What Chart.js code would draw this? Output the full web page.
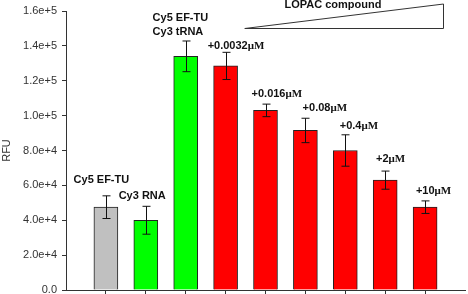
<!DOCTYPE html>
<html>
<head>
<meta charset="utf-8">
<script src="https://cdn.jsdelivr.net/npm/chart.js@4.4.1/dist/chart.umd.min.js"></script>
<style>
  html, body { margin: 0; padding: 0; background: #fff; }
  #wrap { width: 468px; height: 294px; position: relative; }
</style>
</head>
<body>
<div id="wrap"><canvas id="chart"></canvas></div>
<script>
// bar positions on the x axis (1..9) and values
const positions = [1, 2, 3, 4, 5, 6, 7, 8, 9];
const rfu = [47500, 40000, 134000, 128500, 103000, 91500, 80000, 63000, 47500];
const rfuErr = [6500, 8000, 8800, 7800, 3600, 7000, 9000, 5200, 3600];
const barColors = ['#c0c0c0', '#00ff00', '#00ff00', '#ff0000', '#ff0000', '#ff0000', '#ff0000', '#ff0000', '#ff0000'];
const yTicks = [0, 20000, 40000, 60000, 80000, 100000, 120000, 140000, 160000];

// text above the bars (lines of each label)
const barLabels = [
  ['Cy5 EF-TU'],
  ['Cy3 RNA'],
  ['Cy5 EF-TU', 'Cy3 tRNA'],
  ['+0.0032μM'],
  ['+0.016μM'],
  ['+0.08μM'],
  ['+0.4μM'],
  ['+2μM'],
  ['+10μM']
];
// where each label starts, in axis units (x = left edge, y = first line middle)
const labelX = [0.19, 1.32, 2.17, 3.55, 4.65, 5.93, 6.86, 7.77, 8.77];
const labelY = [62900, 53700, 156000, 139900, 112300, 104300, 93900, 75200, 56800];

// the "LOPAC compound" wedge, in axis units
const wedgeX = [4.48, 9.45];
const wedgeY = [150500, 164000];

const textColor = '#333';
const lineColor = '#333';

const drawMixed = (ctx, text, x, y) => {
  // the unit "μM" is set in a serif face like the original
  const idx = text.indexOf('μM');
  const head = idx >= 0 ? text.slice(0, idx) : text;
  ctx.font = 'bold 11px "Liberation Sans", Arial, sans-serif';
  ctx.fillText(head, x, y);
  if (idx >= 0) {
    const w = ctx.measureText(head).width;
    ctx.font = 'bold 11px "Liberation Serif", "Times New Roman", serif';
    ctx.fillText('μM', x + w, y);
  }
};

const extrasPlugin = {
  id: 'extras',
  afterDatasetsDraw(chart) {
    const ctx = chart.ctx;
    const xs = chart.scales.x;
    const ys = chart.scales.y;
    ctx.save();

    // error bars
    ctx.strokeStyle = '#111';
    ctx.lineWidth = 1;
    positions.forEach((p, i) => {
      const cx = Math.round(xs.getPixelForValue(p)) + 0.5;
      const top = ys.getPixelForValue(rfu[i] + rfuErr[i]);
      const bot = ys.getPixelForValue(rfu[i] - rfuErr[i]);
      ctx.beginPath();
      ctx.moveTo(cx, top);
      ctx.lineTo(cx, bot);
      ctx.moveTo(cx - 4, top);
      ctx.lineTo(cx + 4, top);
      ctx.moveTo(cx - 4, bot);
      ctx.lineTo(cx + 4, bot);
      ctx.stroke();
    });

    // labels over the bars
    ctx.fillStyle = '#111';
    ctx.textBaseline = 'middle';
    ctx.textAlign = 'left';
    barLabels.forEach((lines, i) => {
      const x = xs.getPixelForValue(labelX[i]);
      const y = ys.getPixelForValue(labelY[i]);
      lines.forEach((line, j) => {
        drawMixed(ctx, line, x, y + j * 14);
      });
    });

    // wedge showing rising compound concentration
    const x0 = xs.getPixelForValue(wedgeX[0]);
    const x1 = Math.round(xs.getPixelForValue(wedgeX[1])) + 0.5;
    const yb = Math.round(ys.getPixelForValue(wedgeY[0])) + 0.5;
    const yt = ys.getPixelForValue(wedgeY[1]);
    ctx.strokeStyle = lineColor;
    ctx.fillStyle = '#fff';
    ctx.beginPath();
    ctx.moveTo(x0, yb);
    ctx.lineTo(x1, yt);
    ctx.lineTo(x1, yb);
    ctx.closePath();
    ctx.fill();
    ctx.stroke();

    ctx.fillStyle = '#111';
    ctx.font = 'bold 11px "Liberation Sans", Arial, sans-serif';
    ctx.textAlign = 'center';
    ctx.fillText('LOPAC compound', xs.getPixelForValue(6.69), yt + 1);

    ctx.restore();
  }
};

new Chart(document.getElementById('chart'), {
  type: 'bar',
  data: {
    datasets: [{
      data: positions.map((p, i) => ({ x: p, y: rfu[i] })),
      backgroundColor: barColors,
      borderColor: '#222',
      borderWidth: 1,
      barThickness: 24
    }]
  },
  options: {
    responsive: true,
    maintainAspectRatio: false,
    animation: false,
    layout: { padding: { top: 11, right: 3, left: 0, bottom: 0 } },
    plugins: {
      legend: { display: false },
      tooltip: { enabled: false }
    },
    scales: {
      x: {
        type: 'linear',
        min: 0,
        max: 10,
        offset: false,
        afterBuildTicks: (axis) => {
          axis.ticks = positions.map((v) => ({ value: v }));
        },
        afterFit: (axis) => {
          axis.height = 4;
          axis.paddingLeft = 0;
          axis.paddingRight = 0;
        },
        grid: { offset: false, drawOnChartArea: false, drawTicks: true, tickLength: 4, color: lineColor },
        border: { color: lineColor, width: 1 },
        ticks: { display: false }
      },
      y: {
        min: 0,
        max: 160000,
        afterBuildTicks: (axis) => {
          axis.ticks = yTicks.map((v) => ({ value: v }));
        },
        afterFit: (axis) => {
          axis.width = 66;
          axis.paddingTop = 0;
          axis.paddingBottom = 0;
        },
        grid: { drawOnChartArea: false, drawTicks: true, tickLength: 4, color: lineColor },
        border: { color: lineColor, width: 1 },
        ticks: {
          color: textColor,
          padding: 5,
          font: { family: '"Liberation Sans", Arial, sans-serif', size: 11 },
          callback: (v) => (v === 0 ? '0.0' : Number(v).toExponential(1))
        },
        title: {
          display: true,
          text: 'RFU',
          color: textColor,
          padding: 0,
          font: { family: '"Liberation Sans", Arial, sans-serif', size: 11 }
        }
      }
    }
  },
  plugins: [extrasPlugin]
});
</script>
</body>
</html>
